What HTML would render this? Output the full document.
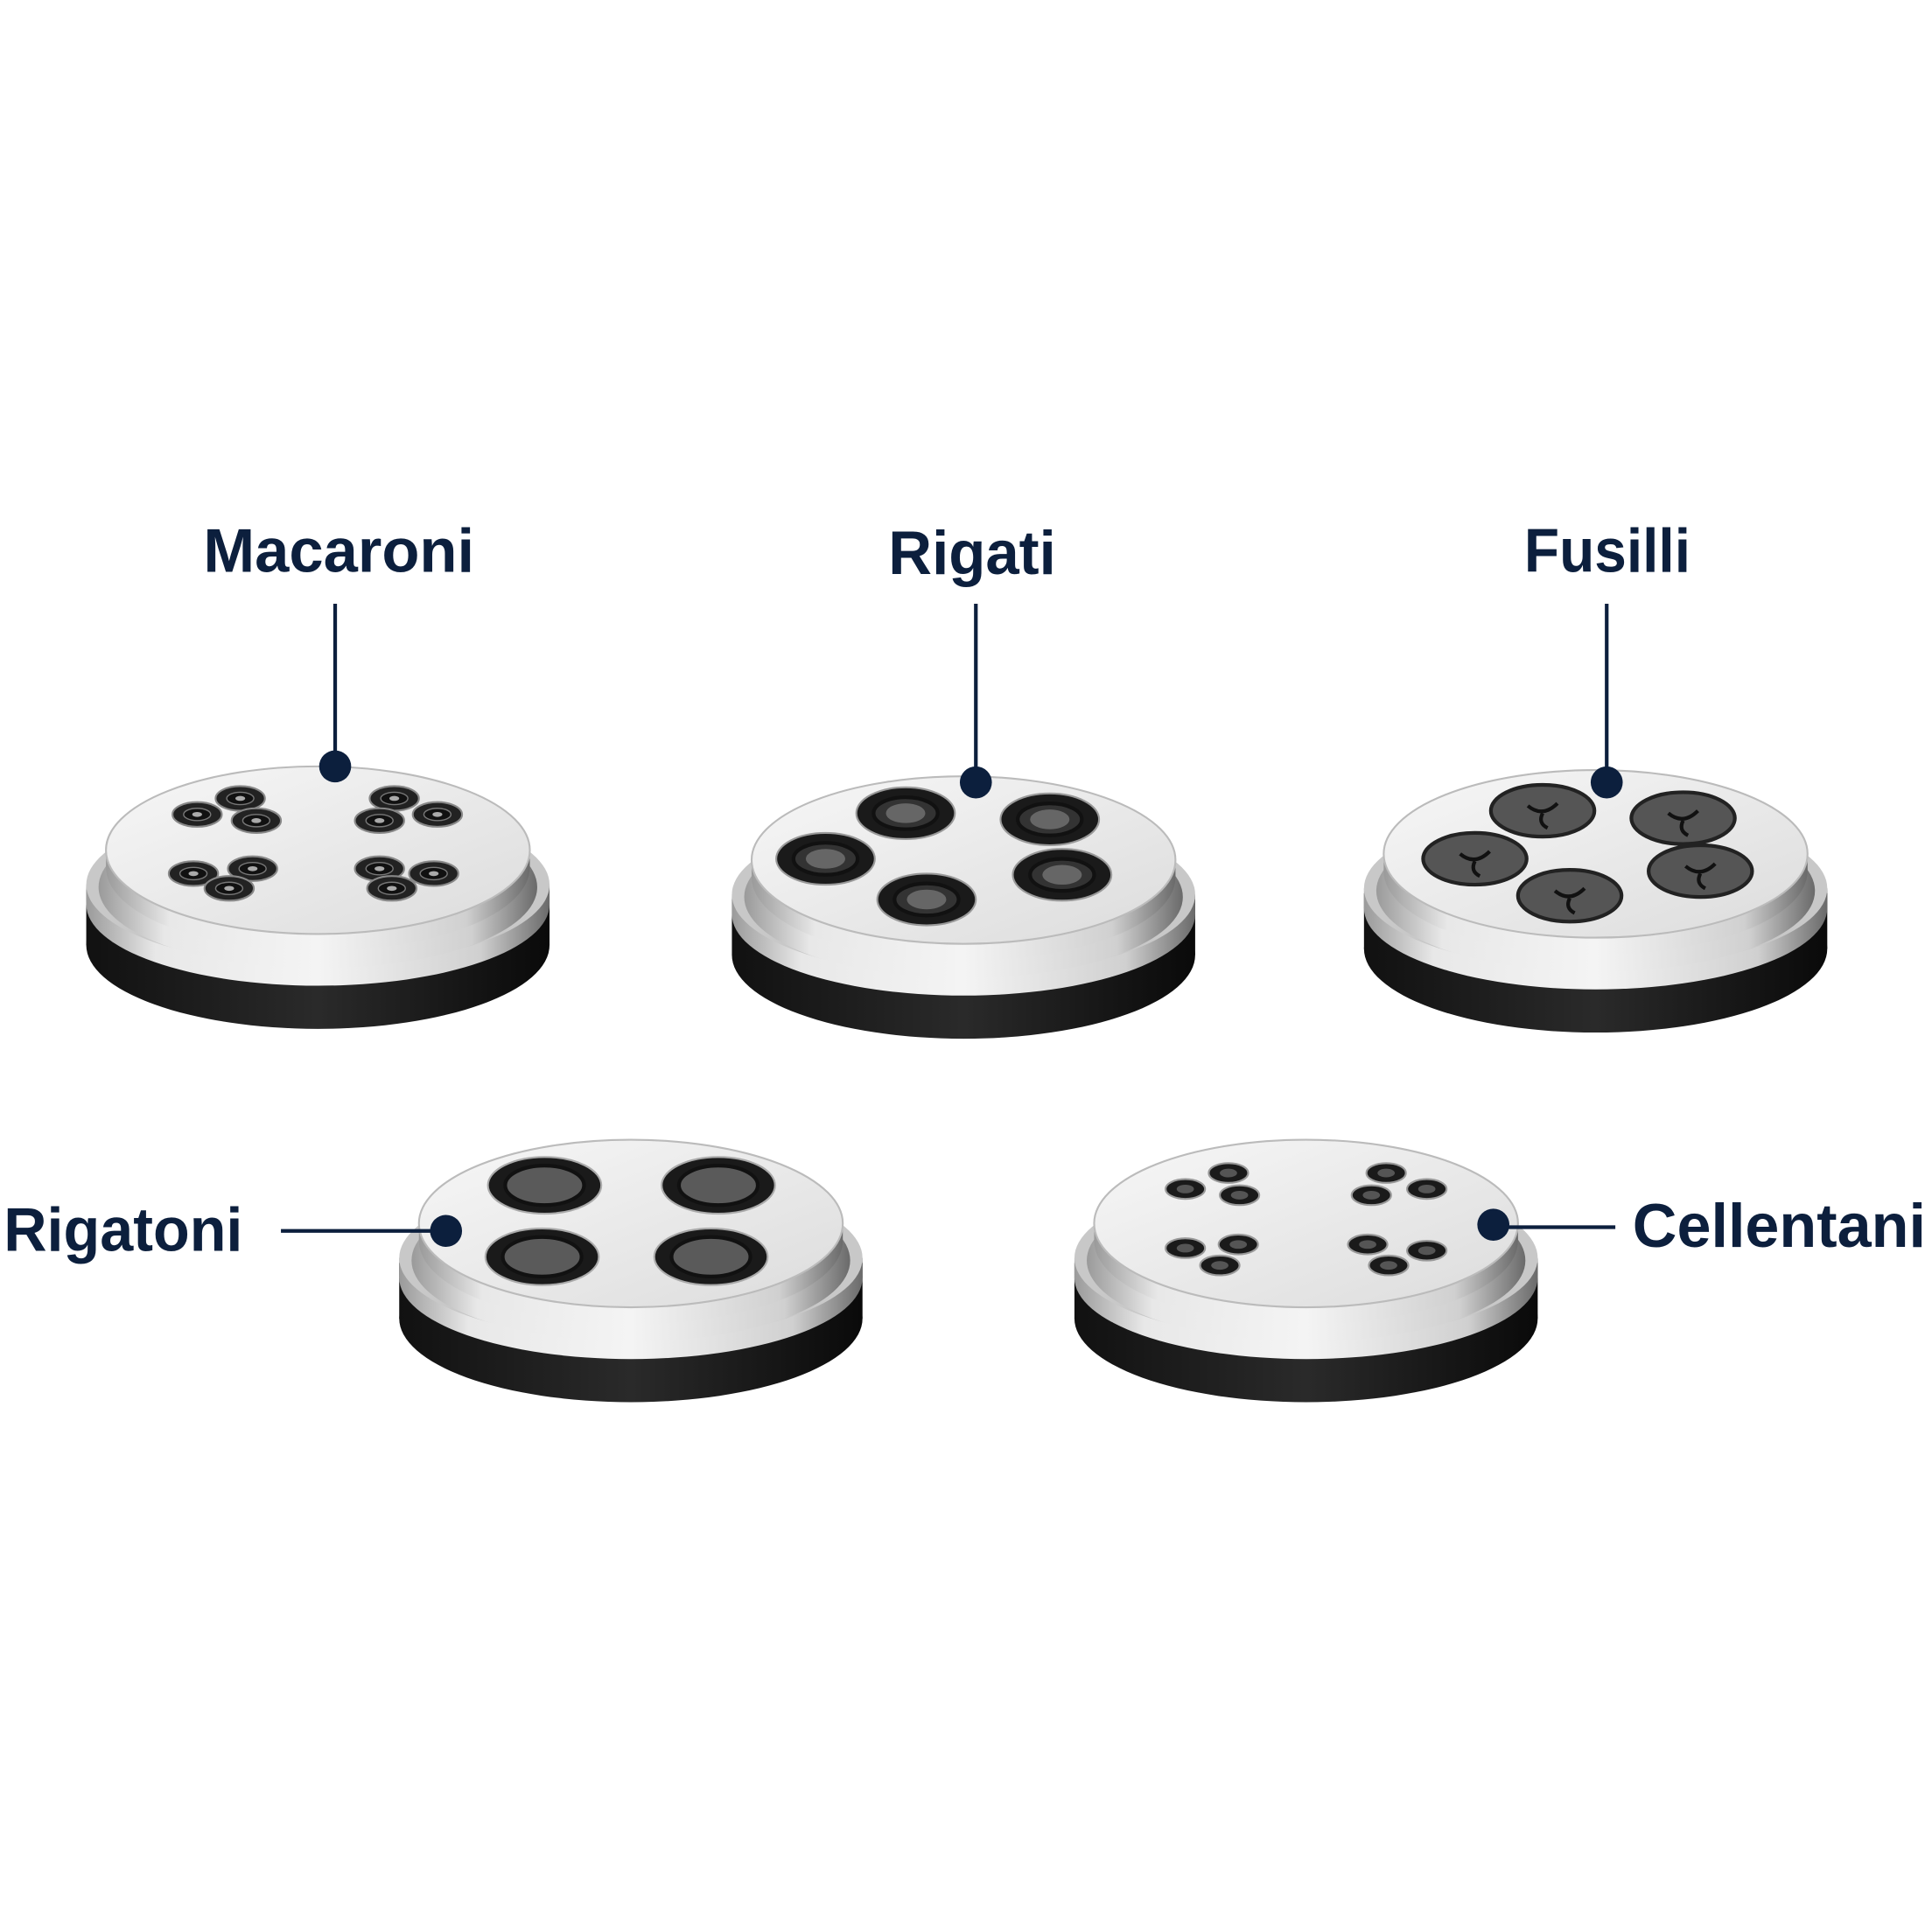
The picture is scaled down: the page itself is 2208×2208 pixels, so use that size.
<!DOCTYPE html>
<html><head><meta charset="utf-8"><style>html,body{margin:0;padding:0;background:#fff}svg{display:block}</style></head>
<body>
<svg width="2208" height="2208" viewBox="0 0 1568 1568" xmlns="http://www.w3.org/2000/svg">
<defs>
<linearGradient id="side" x1="0" x2="1" y1="0" y2="0">
<stop offset="0" stop-color="#9a9a9a"/><stop offset="0.15" stop-color="#e8e8e8"/><stop offset="0.5" stop-color="#f4f4f4"/><stop offset="0.85" stop-color="#d0d0d0"/><stop offset="1" stop-color="#6a6a6a"/>
</linearGradient>
<linearGradient id="face" x1="0" x2="1" y1="0" y2="1">
<stop offset="0" stop-color="#f7f7f7"/><stop offset="1" stop-color="#dcdcdc"/>
</linearGradient>
<linearGradient id="blk" x1="0" x2="1" y1="0" y2="0">
<stop offset="0" stop-color="#111"/><stop offset="0.5" stop-color="#2a2a2a"/><stop offset="1" stop-color="#0a0a0a"/>
</linearGradient>
<g id="disc">
<ellipse cx="0" cy="145" rx="188" ry="68" fill="url(#blk)"/>
<rect x="-188" y="100" width="376" height="45" fill="url(#blk)"/>
<ellipse cx="0" cy="112" rx="188" ry="66" fill="url(#side)"/>
<rect x="-188" y="96" width="376" height="16" fill="url(#side)"/>
<ellipse cx="0" cy="96" rx="188" ry="66" fill="#c8c8c8"/>
<ellipse cx="0" cy="98" rx="178" ry="66" fill="url(#side)"/>
<ellipse cx="0" cy="82" rx="172" ry="68" fill="url(#side)"/>
<rect x="-172" y="68" width="344" height="14" fill="url(#side)"/>
<ellipse cx="0" cy="68" rx="172" ry="68" fill="url(#face)" stroke="#bbb" stroke-width="1.5"/>
</g>
<g id="mh"><ellipse rx="20" ry="10" fill="#222" stroke="#888" stroke-width="1.5"/><ellipse rx="11" ry="5" fill="#111" stroke="#777" stroke-width="1"/><ellipse rx="4" ry="2" fill="#aaa"/></g>
<g id="rh"><ellipse rx="40" ry="21" fill="#1a1a1a" stroke="#999" stroke-width="1.5"/><ellipse rx="26" ry="13" fill="#333" stroke="#111" stroke-width="3"/><ellipse rx="16" ry="8" fill="#666"/></g>
<g id="fh"><ellipse rx="42" ry="21" fill="#555" stroke="#222" stroke-width="3"/><path d="M-12,-4 Q0,6 12,-6 M0,2 Q-4,10 4,14" stroke="#111" stroke-width="3" fill="none"/></g>
<g id="gh"><ellipse rx="46" ry="23" fill="#1a1a1a" stroke="#aaa" stroke-width="1.5"/><ellipse rx="32" ry="16" fill="#5a5a5a" stroke="#111" stroke-width="3"/></g>
<g id="ch"><ellipse rx="16" ry="8" fill="#1a1a1a" stroke="#999" stroke-width="1.5"/><ellipse rx="7" ry="3.5" fill="#555"/></g>
</defs>
<rect width="1568" height="1568" fill="#fff"/>

<use href="#disc" x="258" y="622"/>
<use href="#disc" x="782" y="630"/>
<use href="#disc" x="1295" y="625"/>
<use href="#disc" x="512" y="925"/>
<use href="#disc" x="1060" y="925"/>

<g>
<use href="#mh" x="160" y="661"/><use href="#mh" x="195" y="648"/><use href="#mh" x="208" y="666"/>
<use href="#mh" x="157" y="709"/><use href="#mh" x="205" y="705"/><use href="#mh" x="186" y="721"/>
<use href="#mh" x="320" y="648"/><use href="#mh" x="308" y="666"/><use href="#mh" x="355" y="661"/>
<use href="#mh" x="308" y="705"/><use href="#mh" x="352" y="709"/><use href="#mh" x="318" y="721"/>
</g>
<g>
<use href="#rh" x="735" y="660"/><use href="#rh" x="852" y="665"/><use href="#rh" x="670" y="697"/>
<use href="#rh" x="862" y="710"/><use href="#rh" x="752" y="730"/>
</g>
<g>
<use href="#fh" x="1252" y="658"/><use href="#fh" x="1366" y="664"/><use href="#fh" x="1197" y="697"/>
<use href="#fh" x="1380" y="707"/><use href="#fh" x="1274" y="727"/>
</g>
<g>
<use href="#gh" x="442" y="962"/><use href="#gh" x="583" y="962"/><use href="#gh" x="440" y="1020"/><use href="#gh" x="577" y="1020"/>
</g>
<g>
<use href="#ch" x="962" y="965"/><use href="#ch" x="997" y="952"/><use href="#ch" x="1006" y="970"/>
<use href="#ch" x="1125" y="952"/><use href="#ch" x="1113" y="970"/><use href="#ch" x="1158" y="965"/>
<use href="#ch" x="962" y="1013"/><use href="#ch" x="1005" y="1010"/><use href="#ch" x="990" y="1027"/>
<use href="#ch" x="1110" y="1010"/><use href="#ch" x="1158" y="1015"/><use href="#ch" x="1127" y="1027"/>
</g>

<g fill="#0c1f3d" font-family="Liberation Sans, sans-serif" font-weight="bold" font-size="50">
<text x="165" y="464" textLength="220" lengthAdjust="spacingAndGlyphs">Macaroni</text>
<text x="721" y="466" textLength="136" lengthAdjust="spacingAndGlyphs">Rigati</text>
<text x="1237" y="464" textLength="135" lengthAdjust="spacingAndGlyphs">Fusilli</text>
<text x="3" y="1015" textLength="194" lengthAdjust="spacingAndGlyphs">Rigatoni</text>
<text x="1325" y="1012" textLength="238" lengthAdjust="spacingAndGlyphs">Cellentani</text>
</g>
<g stroke="#0c1f3d" stroke-width="3" fill="#0c1f3d">
<line x1="272" y1="490" x2="272" y2="620"/><circle cx="272" cy="622" r="13" stroke="none"/>
<line x1="792" y1="490" x2="792" y2="634"/><circle cx="792" cy="635" r="13" stroke="none"/>
<line x1="1304" y1="490" x2="1304" y2="634"/><circle cx="1304" cy="635" r="13" stroke="none"/>
<line x1="228" y1="999" x2="362" y2="999"/><circle cx="362" cy="999" r="13" stroke="none"/>
<line x1="1212" y1="996" x2="1311" y2="996"/><circle cx="1212" cy="994" r="13" stroke="none"/>
</g>
</svg>
</body></html>
